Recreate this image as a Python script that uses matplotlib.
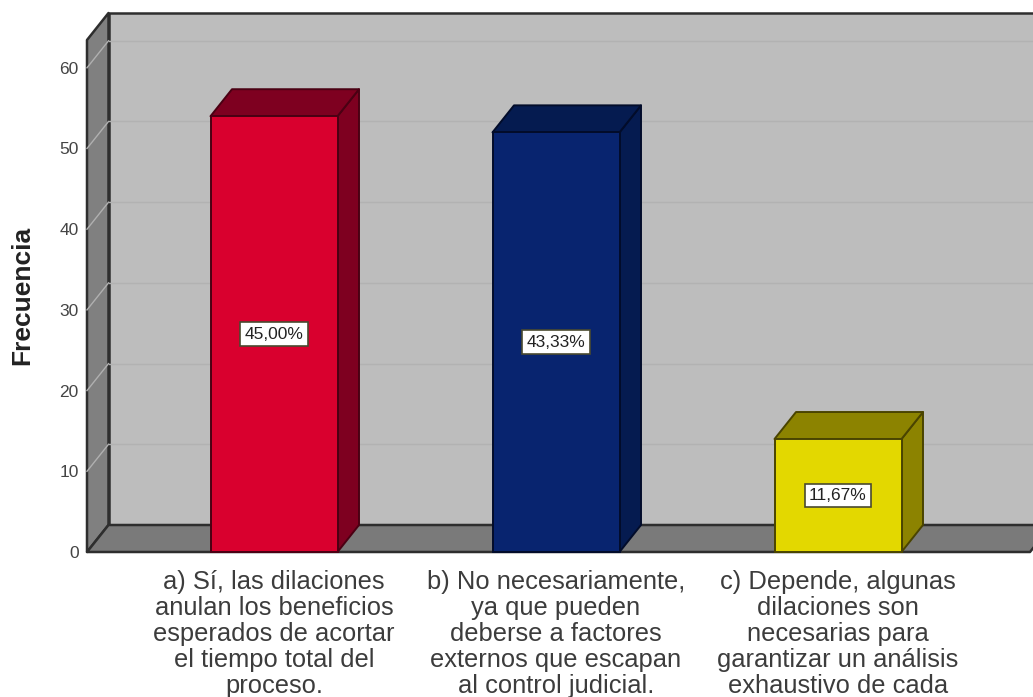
import matplotlib
matplotlib.use("Agg")
import matplotlib.pyplot as plt
from matplotlib.patches import Polygon

plt.rcParams["font.family"] = ["Liberation Sans", "DejaVu Sans"]

categories = [
    "a) Sí, las dilaciones\nanulan los beneficios\nesperados de acortar\nel tiempo total del\nproceso.",
    "b) No necesariamente,\nya que pueden\ndeberse a factores\nexternos que escapan\nal control judicial.",
    "c) Depende, algunas\ndilaciones son\nnecesarias para\ngarantizar un análisis\nexhaustivo de cada",
]
frequencies = [54, 52, 14]
percent_labels = ["45,00%", "43,33%", "11,67%"]
y_ticks = [0, 10, 20, 30, 40, 50, 60]

front_colors = ["#d9002e", "#08246f", "#e3d800"]
side_colors = ["#7e0020", "#051b50", "#8c8300"]
edge_colors = ["#4a0013", "#020c2a", "#4a4400"]

W, H = 1033, 697
PX_X = 282.0  # pixels per category
PX_Y = 8.07   # pixels per count

fig = plt.figure(figsize=(W / 100, H / 100), dpi=100, facecolor="white")
ax = fig.add_axes([87 / W, (H - 552) / H, (1030 - 87) / W, (552 - 40) / H])
ax.set_xlim((87 - 274) / PX_X, (1030 - 274) / PX_X)
ax.set_ylim(0, (552 - 40) / PX_Y)
ax.patch.set_visible(False)
for s in ax.spines.values():
    s.set_visible(False)

x0, x1 = ax.get_xlim()
y0, y1 = ax.get_ylim()
dx = 21.5 / PX_X
dy = 27 / PX_Y
wall_edge = "#2e2e2e"


def poly(points, face, edge=wall_edge, lw=1.8, z=1):
    ax.add_patch(Polygon(points, closed=True, facecolor=face, edgecolor=edge,
                         linewidth=lw, clip_on=False, zorder=z, joinstyle="round"))


# walls and floor
poly([(x0 + dx, y0 + dy), (x1 + dx, y0 + dy), (x1 + dx, y1 + dy), (x0 + dx, y1 + dy)], "#bdbdbd")
poly([(x0, y0), (x0 + dx, y0 + dy), (x0 + dx, y1 + dy), (x0, y1)], "#808080")
poly([(x0, y0), (x1, y0), (x1 + dx, y0 + dy), (x0 + dx, y0 + dy)], "#7a7a7a")

# gridlines
for t in y_ticks[1:]:
    ax.plot([x0 + dx, x1 + dx], [t + dy, t + dy], color="#b2b2b2", lw=1.0, zorder=2, clip_on=False)
    ax.plot([x0, x0 + dx], [t, t + dy], color="#b0b0b0", lw=1.0, zorder=2, clip_on=False)

# bars
width = 127 / PX_X
positions = list(range(len(frequencies)))
ax.bar(positions, frequencies, width=width, color=front_colors, edgecolor=edge_colors,
       linewidth=1.4, zorder=4, clip_on=False)
for i, v in enumerate(frequencies):
    l, r = i - width / 2, i + width / 2
    poly([(r, 0), (r + dx, dy), (r + dx, v + dy), (r, v)], side_colors[i], edge_colors[i], 1.4, 3)
    poly([(l, v), (r, v), (r + dx, v + dy), (l + dx, v + dy)], side_colors[i], edge_colors[i], 1.4, 3)
    ax.text(i, v / 2, percent_labels[i], ha="center", va="center", fontsize=12.5, color="#222222", zorder=5,
            bbox=dict(boxstyle="square,pad=0.25", facecolor="white", edgecolor="#4a4a30", linewidth=1.2))

ax.set_yticks(y_ticks)
ax.set_xticks(positions)
ax.set_xticklabels(categories, fontsize=18.4, color="#3c3c3c", linespacing=1.11)
ax.tick_params(axis="both", length=0)
ax.tick_params(axis="x", pad=13)
ax.tick_params(axis="y", labelsize=12.5, labelcolor="#444444", pad=6)
fig.text(22 / W, 1 - 295 / H, "Frecuencia", rotation=90, ha="center", va="center",
         fontsize=19, fontweight="bold", color="#222222")

fig.savefig("out.png", dpi=100)
